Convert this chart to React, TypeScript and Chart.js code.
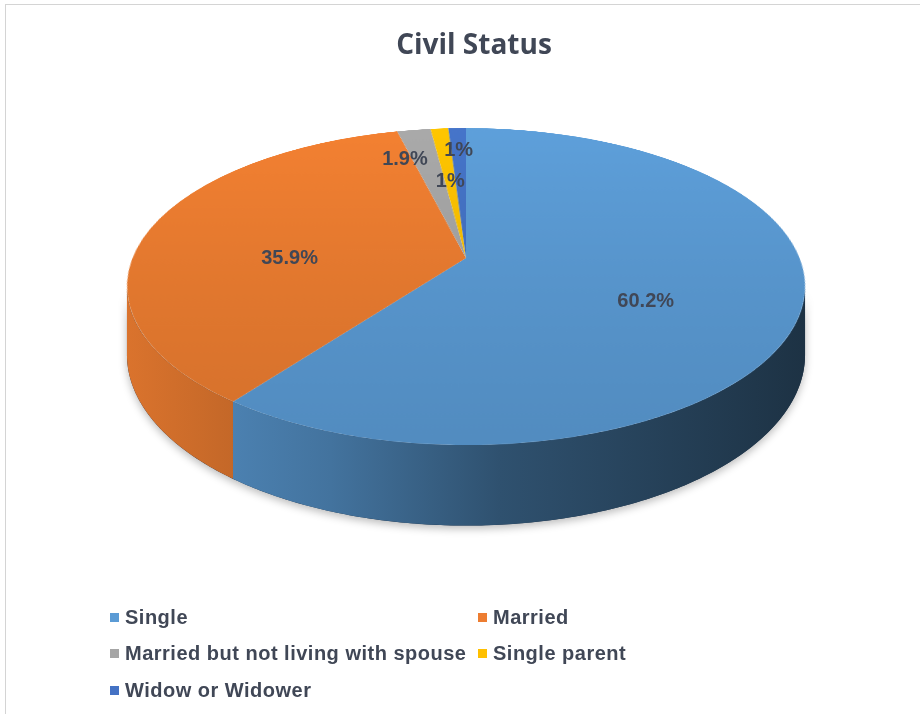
import React, { useEffect, useRef } from "react";
import { Chart, registerables } from "chart.js";

Chart.register(...registerables);

// ---- data ----
const chartTitle = "Civil Status";
const categories = [
  "Single",
  "Married",
  "Married but not living with spouse",
  "Single parent",
  "Widow or Widower",
];
const shares = [60.2, 35.9, 1.9, 1, 1];
const shareLabels = ["60.2%", "35.9%", "1.9%", "1%", "1%"];
const sliceColors = ["#5b9bd5", "#ed7d31", "#a5a5a5", "#ffc000", "#4472c4"];

// ---- style / view ----
const W = 920;
const H = 714;
const view = { centerY: 258, scaleX: 333.5, scaleY: 153.4, tilt: 0.18, depth: 66 };
const textColor = "#404756";
const labelFont = 'bold 20px "Liberation Sans", Arial, sans-serif';

function hexToRgb(h: string) {
  const n = parseInt(h.slice(1), 16);
  return [(n >> 16) & 255, (n >> 8) & 255, n & 255];
}
function shade(h: string, f: number) {
  const [r, g, b] = hexToRgb(h);
  const c = (x: number) => Math.max(0, Math.min(255, Math.round(x * f)));
  return `rgb(${c(r)},${c(g)},${c(b)})`;
}

const pie3d = {
  id: "pie3d",
  afterDatasetsDraw(chart: any) {
    const ctx: CanvasRenderingContext2D = chart.ctx;
    const cv: HTMLCanvasElement = chart.canvas;
    const arcs: any[] = chart.getDatasetMeta(0).data;
    if (!arcs.length) return;
    const cx = arcs[0].x;
    const cy = arcs[0].y;
    const R = arcs[0].outerRadius;

    const off = document.createElement("canvas");
    off.width = cv.width;
    off.height = cv.height;
    off.getContext("2d")!.drawImage(cv, 0, 0);

    ctx.save();
    ctx.setTransform(1, 0, 0, 1, 0, 0);
    ctx.clearRect(0, 0, cv.width, cv.height);

    const X0 = cx;
    const { centerY: Y0, scaleX: S, scaleY: T, tilt: p, depth: D } = view;
    const proj = (u: number, v: number) => {
      const w = 1 - p * v;
      return [X0 + (S * u) / w, Y0 + (T * v) / w];
    };
    const lo = Math.asin(p);
    const hi = Math.PI - lo;
    const half = S / Math.sqrt(1 - p * p);
    const left = X0 - half;
    const right = X0 + half;

    const wallPath = (s: number, e: number) => {
      const n = Math.max(2, Math.ceil((e - s) * 90));
      ctx.beginPath();
      for (let k = 0; k <= n; k++) {
        const a = s + ((e - s) * k) / n;
        const [x, y] = proj(Math.cos(a), Math.sin(a));
        k === 0 ? ctx.moveTo(x, y) : ctx.lineTo(x, y);
      }
      for (let k = n; k >= 0; k--) {
        const a = s + ((e - s) * k) / n;
        const [x, y] = proj(Math.cos(a), Math.sin(a));
        ctx.lineTo(x, y + D / (1 - p * Math.sin(a)));
      }
      ctx.closePath();
    };

    // soft shadow under the whole wall
    ctx.save();
    ctx.shadowColor = "rgba(0,0,0,0.28)";
    ctx.shadowBlur = 8;
    ctx.shadowOffsetY = 3;
    wallPath(lo, hi);
    ctx.fillStyle = "#1c2f45";
    ctx.fill();
    ctx.restore();

    arcs.forEach((arc, i) => {
      const s = Math.max(arc.startAngle, lo);
      const e = Math.min(arc.endAngle, hi);
      if (e <= s) return;
      const base = sliceColors[i];
      const g = ctx.createLinearGradient(left, 0, right, 0);
      g.addColorStop(0, shade(base, 0.92));
      g.addColorStop(0.3, shade(base, 0.74));
      g.addColorStop(0.55, shade(base, 0.52));
      g.addColorStop(1, shade(base, 0.32));
      wallPath(s, e);
      ctx.fillStyle = g;
      ctx.fill();
    });

    // perspective warp of the flat pie drawn by Chart.js
    ctx.imageSmoothingEnabled = true;
    const yTop = Math.floor(Y0 - T / (1 + p)) - 1;
    const yBot = Math.ceil(Y0 + T / (1 - p)) + 1;
    for (let yp = yTop; yp <= yBot; yp++) {
      const d = yp + 0.5 - Y0;
      const v = d / (T + p * d);
      if (v < -1.02 || v > 1.02) continue;
      const sy = cy + R * v;
      const g = S / (R * (1 - p * v));
      ctx.drawImage(off, 0, sy - 0.5, cv.width, 1, X0 - g * cx, yp, cv.width * g, 1);
    }

    // data labels
    ctx.font = labelFont;
    ctx.fillStyle = textColor;
    ctx.textAlign = "center";
    ctx.textBaseline = "middle";
    const placed: { x: number; y: number; w: number }[] = [];
    const lh = 26;
    const gap = 6;
    const collides = (x: number, y: number, tw: number) =>
      placed.some((b) => Math.abs(b.x - x) < (b.w + tw) / 2 + gap && Math.abs(b.y - y) < lh);
    const big = arcs.map((_, i) => i).filter((i) => shares[i] >= 5);
    const small = arcs.map((_, i) => i).filter((i) => shares[i] < 5).reverse();
    [...big, ...small].forEach((i) => {
      const arc = arcs[i];
      const txt = shareLabels[i];
      const tw = ctx.measureText(txt).width;
      const mid = (arc.startAngle + arc.endAngle) / 2;
      let x = 0;
      let y = 0;
      if (shares[i] >= 5) {
        [x, y] = proj(0.55 * Math.cos(mid), 0.55 * Math.sin(mid));
        y += D * 0.25;
      } else {
        let found = false;
        for (let f = 0.8; f >= 0.499 && !found; f -= 0.05) {
          [x, y] = proj(f * Math.cos(mid), f * Math.sin(mid));
          if (!collides(x, y, tw)) found = true;
        }
        if (!found) {
          const [bx, by] = proj(0.8 * Math.cos(mid), 0.8 * Math.sin(mid));
          for (let s = 0; s <= 60 && !found; s += 3) {
            x = bx - s;
            y = by + s * 0.4;
            if (!collides(x, y, tw)) found = true;
          }
        }
      }
      placed.push({ x, y, w: tw });
      ctx.fillText(txt, x, y);
    });

    ctx.restore();
  },
};

export default function App() {
  const ref = useRef<HTMLCanvasElement | null>(null);

  useEffect(() => {
    document.body.style.margin = "0";
    const canvas = ref.current!;
    const chart = new Chart(canvas, {
      type: "pie",
      data: {
        labels: categories,
        datasets: [
          {
            data: shares,
            radius: 330,
            borderWidth: 0,
            backgroundColor: (c: any) => {
              const base = sliceColors[c.dataIndex] || "#888";
              const area = c.chart.chartArea;
              if (!area) return base;
              const midY = (area.top + area.bottom) / 2;
              const g = c.chart.ctx.createLinearGradient(0, midY - 330, 0, midY + 330);
              g.addColorStop(0, shade(base, 1.03));
              g.addColorStop(1, shade(base, 0.9));
              return g;
            },
          } as any,
        ],
      },
      options: {
        responsive: false,
        animation: false,
        events: [],
        layout: { padding: { left: 12 } },
        plugins: {
          legend: { display: false },
          title: { display: false },
          tooltip: { enabled: false },
        },
      },
      plugins: [pie3d as any],
    });
    return () => chart.destroy();
  }, []);

  return (
    <div
      style={{
        position: "absolute",
        left: 0,
        top: 0,
        width: W,
        height: H,
        background: "#fff",
        overflow: "hidden",
      }}
    >
      <div
        style={{
          position: "absolute",
          left: 5,
          top: 4,
          right: -2,
          bottom: -2,
          borderTop: "1px solid #d4d4d4",
          borderLeft: "1px solid #d4d4d4",
        }}
      />
      <canvas ref={ref} width={W} height={H} style={{ position: "absolute", left: 0, top: 0 }} />
      <div
        style={{
          position: "absolute",
          left: 0,
          width: 948,
          top: 24,
          textAlign: "center",
          font: '700 28px "Open Sans", Lato, sans-serif',
          color: textColor,
        }}
      >
        {chartTitle}
      </div>
      <div
        style={{
          position: "absolute",
          left: 110,
          top: 599,
          display: "grid",
          gridTemplateColumns: "368px auto",
          font: 'bold 20px "Liberation Sans", Arial, sans-serif',
          letterSpacing: "0.5px",
          color: textColor,
        }}
      >
        {categories.map((c, i) => (
          <div key={c} style={{ display: "flex", alignItems: "center", height: 36.5, whiteSpace: "nowrap" }}>
            <span
              style={{
                display: "inline-block",
                width: 9,
                height: 9,
                background: sliceColors[i],
                marginRight: 6,
              }}
            />
            {c}
          </div>
        ))}
      </div>
    </div>
  );
}
